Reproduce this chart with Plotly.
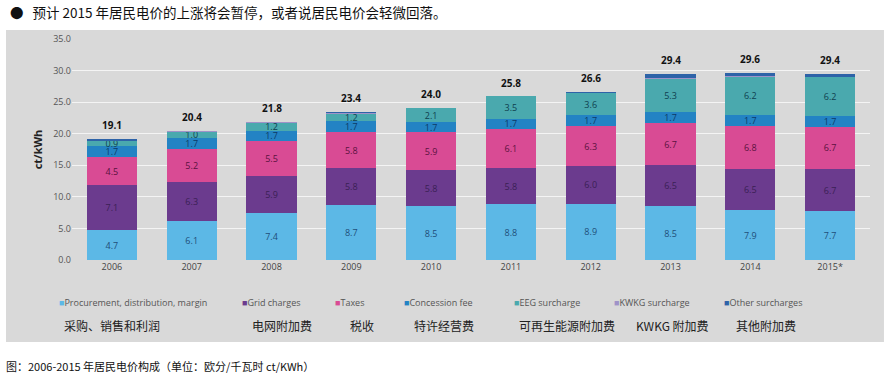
import plotly.graph_objects as go

years = ["2006", "2007", "2008", "2009", "2010", "2011", "2012", "2013", "2014", "2015*"]
procurement = [4.7, 6.1, 7.4, 8.7, 8.5, 8.8, 8.9, 8.5, 7.9, 7.7]
grid = [7.1, 6.3, 5.9, 5.8, 5.8, 5.8, 6.0, 6.5, 6.5, 6.7]
taxes = [4.5, 5.2, 5.5, 5.8, 5.9, 6.1, 6.3, 6.7, 6.8, 6.7]
concession = [1.7, 1.7, 1.7, 1.7, 1.7, 1.7, 1.7, 1.7, 1.7, 1.7]
eeg = [0.9, 1.0, 1.2, 1.2, 2.1, 3.5, 3.6, 5.3, 6.2, 6.2]
kwkg = [0.1, 0.1, 0.1, 0.1, 0.0, 0.0, 0.0, 0.1, 0.1, 0.1]
other = [0.1, 0.0, 0.0, 0.1, 0.0, 0.0, 0.1, 0.6, 0.4, 0.3]
totals = [19.1, 20.4, 21.8, 23.4, 24.0, 25.8, 26.6, 29.4, 29.6, 29.4]
y_ticks = [0, 5, 10, 15, 20, 25, 30, 35]

series = [
    ("Procurement, distribution, margin", "采购、销售和利润", procurement, "#5cb8e6", "#1f4e79", True),
    ("Grid charges", "电网附加费", grid, "#6b3b8e", "#3a1f55", True),
    ("Taxes", "税收", taxes, "#d94b94", "#5a1240", True),
    ("Concession fee", "特许经营费", concession, "#2383c4", "#0d3a66", True),
    ("EEG surcharge", "可再生能源附加费", eeg, "#4aa9ae", "#0f3f4f", True),
    ("KWKG surcharge", "KWKG 附加费", kwkg, "#9f93c8", "#333333", False),
    ("Other surcharges", "其他附加费", other, "#2e63a8", "#333333", False),
]

fig = go.Figure()
for name, cn, vals, col, tcol, show in series:
    fig.add_trace(go.Bar(
        x=years, y=vals, name=name, marker=dict(color=col, line=dict(width=0)),
        text=[f"{v:.1f}" for v in vals] if show else None,
        textposition="inside" if show else "none",
        insidetextanchor="middle", textangle=0,
        textfont=dict(size=9, color=tcol, family="Open Sans"),
        showlegend=False,
    ))

# total labels: category index positions on the category axis
for i, t in enumerate(totals):
    fig.add_annotation(x=i, y=t, xref="x", yref="y", yanchor="bottom", yshift=5, showarrow=False,
                       text=f"<b>{t:.1f}</b>", font=dict(size=10, color="#111111", family="Open Sans"))

# grey panel
fig.add_shape(type="rect", xref="paper", yref="paper", x0=-0.0827, x1=1.0175, y0=-0.371, y1=1.0407,
              fillcolor="#d9d9d9", line=dict(width=0), layer="below")

# legend (English) and Chinese labels
leg_x = [57, 240, 333, 402, 512, 612, 722]
cn_x = [62, 250, 348, 412, 517, 634, 734]
for (name, cn, vals, col, tcol, show), lx, cx in zip(series, leg_x, cn_x):
    fig.add_annotation(xref="paper", yref="paper", x=(lx - 72) / 798, y=(260 - 302) / 221,
                       xanchor="left", yanchor="middle", showarrow=False,
                       text=f"<span style='color:{col}'>■</span>{name}",
                       font=dict(size=9, color="#555555", family="Open Sans"))
    fig.add_annotation(xref="paper", yref="paper", x=(cx - 72) / 798, y=(260 - 325) / 221,
                       xanchor="left", yanchor="middle", showarrow=False, text=cn,
                       font=dict(size=12, color="#222222", family="Noto Sans CJK SC"))

fig.add_annotation(xref="paper", yref="paper", x=(8 - 72) / 798, y=(260 - 12) / 221,
                   xanchor="left", yanchor="middle", showarrow=False,
                   text="●   预计 2015 年居民电价的上涨将会暂停，或者说居民电价会轻微回落。",
                   font=dict(size=13.5, color="#111111", family="Noto Sans CJK SC"))
fig.add_annotation(xref="paper", yref="paper", x=(4 - 72) / 798, y=(260 - 366) / 221,
                   xanchor="left", yanchor="middle", showarrow=False,
                   text="图：2006-2015 年居民电价构成（单位：欧分/千瓦时 ct/KWh）",
                   font=dict(size=11, color="#111111", family="Noto Sans CJK SC"))

fig.update_layout(
    width=891, height=375, barmode="stack", bargap=0.37,
    margin=dict(l=72, r=21, t=39, b=115),
    paper_bgcolor="white", plot_bgcolor="rgba(0,0,0,0)",
    uniformtext=dict(minsize=9, mode="show"),
    xaxis=dict(type="category", categoryorder="array", categoryarray=years,
               showgrid=False, showline=False, ticks="", tickfont=dict(size=9, color="#444444", family="Open Sans")),
    yaxis=dict(range=[0, 35], tickvals=y_ticks, tickformat=".1f", showgrid=True, gridcolor="#f4f4f4", gridwidth=1,
               zeroline=False, showline=False, ticks="", tickfont=dict(size=9, color="#555555", family="Open Sans"),
               title=dict(text="<b>ct/kWh</b>", font=dict(size=11, color="#222222", family="Open Sans"), standoff=8)),
    font=dict(family="Open Sans"),
)

fig.write_html("out.html", config={"displayModeBar": False},
               post_script="document.body.style.margin='0';document.body.style.padding='0';")
